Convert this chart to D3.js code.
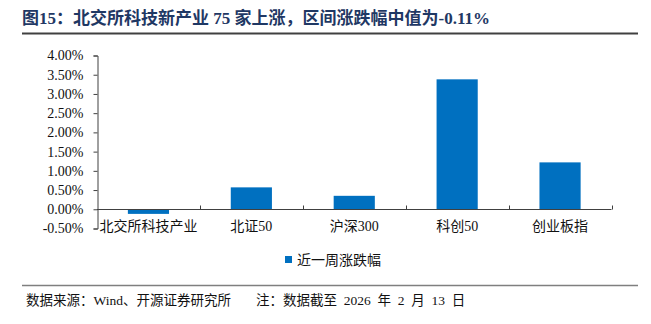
<!DOCTYPE html>
<html>
<head>
<meta charset="utf-8">
<script src="https://cdn.jsdelivr.net/npm/d3@7/dist/d3.min.js"></script>
<style>
  html, body { margin: 0; padding: 0; background: #fff; }
  svg { display: block; }
</style>
</head>
<body>
<svg id="chart" width="651" height="324"></svg>
<script>
const titleText = "图15：北交所科技新产业 75 家上涨，区间涨跌幅中值为-0.11%";
const sourceText = "数据来源：Wind、开源证券研究所";
const noteText = "注：数据截至\u20022026\u2002年\u20022\u2002月\u200213\u2002日";
const seriesName = "近一周涨跌幅";
const categories = ["北交所科技产业", "北证50", "沪深300", "科创50", "创业板指"];
const values = [-0.12, 0.57, 0.35, 3.38, 1.22];
const yTicks = [-0.5, 0, 0.5, 1.0, 1.5, 2.0, 2.5, 3.0, 3.5, 4.0];

const svg = d3.select("#chart");
const FONT = '"Liberation Serif", "Times New Roman", "Noto Sans CJK SC", serif';
const barColor = "#0070C0";
const axisColor = "#404040";

// Title
svg.append("text")
  .attr("x", 22).attr("y", 24)
  .attr("font-family", FONT).attr("font-size", 17).attr("font-weight", "bold")
  .attr("fill", "#1F3864")
  .text(titleText);
svg.append("line")
  .attr("x1", 22).attr("x2", 638).attr("y1", 33.5).attr("y2", 33.5)
  .attr("stroke", "#404040").attr("stroke-width", 2);

// Scales
const x = d3.scaleBand().domain(categories).range([97, 611.5]).padding(0);
const y = d3.scaleLinear().domain([d3.min(yTicks), d3.max(yTicks)]).range([228.5, 55.5]);

// Bars
const bw = x.bandwidth() * 0.4;
svg.append("g").selectAll("rect").data(values).join("rect")
  .attr("x", (d, i) => x(categories[i]) + (x.bandwidth() - bw) / 2)
  .attr("width", bw)
  .attr("y", d => Math.min(y(d), y(0)))
  .attr("height", d => Math.abs(y(d) - y(0)))
  .attr("fill", barColor);

// Y axis
const yAxis = d3.axisLeft(y).tickValues(yTicks).tickSize(4).tickPadding(10)
  .tickFormat(d => d.toFixed(2) + "%");
const gy = svg.append("g").attr("transform", "translate(97.5,0)").call(yAxis);
gy.select(".domain").attr("stroke", axisColor);
gy.selectAll(".tick line").attr("stroke", axisColor);
gy.selectAll(".tick text").attr("font-family", FONT).attr("font-size", 14).attr("fill", "#111");

// X axis line at zero
const y0 = Math.round(y(0)) + 0.5;
svg.append("line")
  .attr("x1", 97).attr("x2", 611.5).attr("y1", y0).attr("y2", y0)
  .attr("stroke", axisColor);
// x ticks at band boundaries (pointing up)
const bounds = categories.map(c => x(c) + x.bandwidth());
svg.append("g").selectAll("line").data(bounds).join("line")
  .attr("x1", d => Math.round(d) + 0.5).attr("x2", d => Math.round(d) + 0.5)
  .attr("y1", y0).attr("y2", y0 - 4)
  .attr("stroke", axisColor);
// category labels
svg.append("g").selectAll("text").data(categories).join("text")
  .attr("x", d => x(d) + x.bandwidth() / 2)
  .attr("y", 231)
  .attr("text-anchor", "middle")
  .attr("font-family", FONT).attr("font-size", 14).attr("fill", "#111")
  .text(d => d);

// Legend
svg.append("rect").attr("x", 285).attr("y", 256).attr("width", 7).attr("height", 7).attr("fill", barColor);
svg.append("text").attr("x", 297).attr("y", 264.5)
  .attr("font-family", FONT).attr("font-size", 14).attr("fill", "#111")
  .text(seriesName);

// Footer
svg.append("line")
  .attr("x1", 22).attr("x2", 638).attr("y1", 285.5).attr("y2", 285.5)
  .attr("stroke", "#7f7f7f").attr("stroke-width", 1.5);
svg.append("text").attr("x", 26).attr("y", 305)
  .attr("font-family", FONT).attr("font-size", 13.5).attr("fill", "#111")
  .text(sourceText);
svg.append("text").attr("x", 256).attr("y", 305)
  .attr("font-family", FONT).attr("font-size", 13.5).attr("fill", "#111")
  .text(noteText);
</script>
</body>
</html>
